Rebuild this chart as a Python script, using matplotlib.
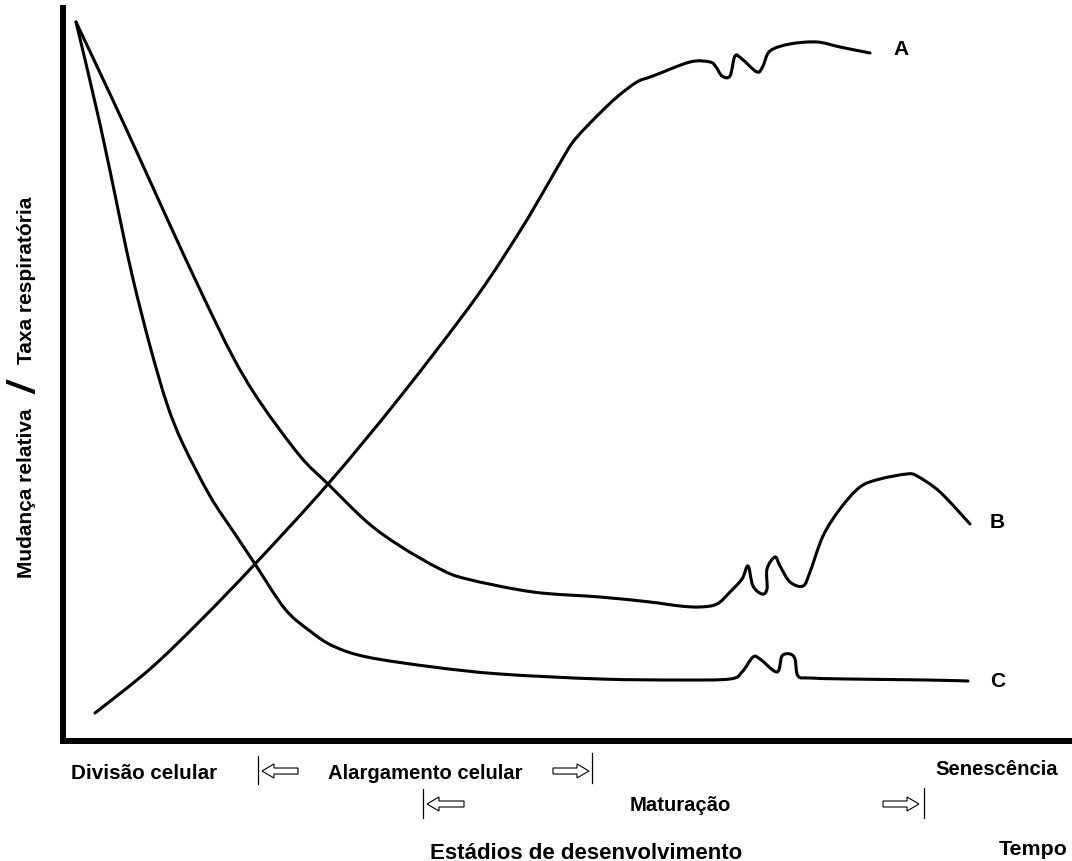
import matplotlib
matplotlib.use("Agg")
import matplotlib.pyplot as plt
from matplotlib.patches import FancyArrow, PathPatch
from matplotlib.path import Path
import numpy as np

plt.rcParams['font.family'] = ['Liberation Sans', 'DejaVu Sans']

# ---- data (time units, relative change units) ----
a_t = [32, 87, 137, 192, 265, 337, 412, 457, 482, 504, 514, 534, 554, 574, 590,
       627, 647, 653, 659, 667, 672, 679, 694, 700, 707, 727, 754, 777, 807]
a_v = [28, 72, 120, 177, 257, 344, 442, 510, 552, 590, 604, 625, 644, 659, 665,
       679, 679, 674, 665, 665, 685, 682, 669, 675, 690, 697, 699, 694, 688]

b_t = [13, 47, 77, 107, 140, 170, 197, 237, 265, 304, 337, 377, 404, 470,
       537, 587, 617, 637, 654, 667, 679, 685, 690, 699, 704, 704, 712, 717, 727,
       740, 747, 760, 777, 797, 817, 844, 854, 877, 907]
b_v = [719, 647, 582, 516, 445, 384, 339, 285, 257, 219, 195, 172, 162, 149,
       144, 139, 135, 134, 137, 149, 162, 175, 155, 147, 152, 172, 184, 175, 159,
       155, 169, 205, 232, 254, 262, 267, 265, 249, 217]

c_t = [13, 37, 57, 70, 87, 104, 120, 147, 172, 192, 222, 247, 270, 304, 370,
       437, 537, 617, 667, 679, 690, 697, 714, 719, 727, 732, 735, 747, 784,
       864, 905]
c_v = [719, 617, 522, 462, 395, 337, 297, 245, 207, 177, 132, 110, 95, 84, 74,
       67, 62, 61, 62, 69, 84, 82, 69, 85, 87, 82, 65, 63, 62,
       61, 60]

curve_labels = ["A", "B", "C"]
stage_labels = ["Divisão celular", "Alargamento celular", "Maturação", "Senescência"]
x_title = "Estádios de desenvolvimento"
x_end = "Tempo"
y_parts = ["Mudança relativa", "/", "Taxa respiratória"]

# ---- figure ----
W, H = 1072, 862
fig = plt.figure(figsize=(W / 100, H / 100), dpi=100)
fig.patch.set_facecolor('white')
ax = fig.add_axes([63 / W, (H - 742) / H, (W - 63) / W, (742 - 9) / H])
ax.set_xlim(0, W - 63)
ax.set_ylim(0, 742 - 9)
for s in ['top', 'right']:
    ax.spines[s].set_visible(False)
for s in ['left', 'bottom']:
    ax.spines[s].set_linewidth(4.3)
    ax.spines[s].set_color('black')
ax.set_xticks([])
ax.set_yticks([])


def smooth_curve(xs, ys, **kw):
    """Draw a smooth curve through the given points (Catmull-Rom as Bezier)."""
    p = np.column_stack([xs, ys]).astype(float)
    n = len(p)
    verts = [p[0]]
    codes = [Path.MOVETO]
    for i in range(n - 1):
        p0 = p[i - 1] if i > 0 else p[i]
        p1 = p[i]
        p2 = p[i + 1]
        p3 = p[i + 2] if i + 2 < n else p[i + 1]
        c1 = p1 + (p2 - p0) / 6.0
        c2 = p2 - (p3 - p1) / 6.0
        verts += [c1, c2, p2]
        codes += [Path.CURVE4] * 3
    patch = PathPatch(Path(verts, codes), fill=False, transform=ax.transData, **kw)
    ax.add_patch(patch)


lw = 2.2
for xs, ys in [(a_t, a_v), (b_t, b_v), (c_t, c_v)]:
    smooth_curve(xs, ys, edgecolor='black', lw=lw, joinstyle='round', capstyle='round')

ax.text(830, 692, curve_labels[0], fontsize=15, fontweight='bold', va='center', ha='left')
ax.text(927, 219, curve_labels[1], fontsize=15, fontweight='bold', va='center', ha='left')
ax.text(927, 60, curve_labels[2], fontsize=15, fontweight='bold', va='center', ha='left')

fs = 14.6
kw = dict(fontweight='bold', va='baseline', ha='left', clip_on=False)
ax.text(8, -37, stage_labels[0], fontsize=14.9, **kw)
ax.text(265, -37, stage_labels[1], fontsize=fs, **kw)
ax.text(567, -69, stage_labels[2], fontsize=fs, **kw)
ax.text(872, -33, stage_labels[3], fontsize=fs, **kw)
ax.text(367, -117, x_title, fontsize=16, **kw)
ax.text(936, -113, x_end, fontsize=15.4, **kw)

# y label pieces
ax.text(-36, 249, y_parts[0], fontsize=15, fontweight='bold', rotation=90,
        ha='center', va='center', clip_on=False)
ax.text(-37, 353, y_parts[1], fontsize=27, fontweight='bold', style='italic',
        rotation=90, ha='center', va='center', clip_on=False)
ax.text(-36, 462, y_parts[2], fontsize=15, fontweight='bold', rotation=90,
        ha='center', va='center', clip_on=False)


# stage boundary bars and hollow arrows
def bar(x, y0, y1):
    ax.plot([x, x], [y0, y1], color='black', lw=0.9, clip_on=False)


def harrow(x_tail, x_tip, y):
    ax.add_patch(FancyArrow(x_tail, y, x_tip - x_tail, 0, width=6, head_width=14,
                            head_length=12, length_includes_head=True,
                            fc='white', ec='black', lw=0.8, clip_on=False))


bar(195, -15, -43)
harrow(235, 199, -30)
harrow(490, 526, -30)
bar(529, -12, -42)
bar(360, -48, -77)
harrow(401, 364, -63)
harrow(820, 856, -63)
bar(861, -47, -77)

fig.savefig("out.png", dpi=100, facecolor='white')
